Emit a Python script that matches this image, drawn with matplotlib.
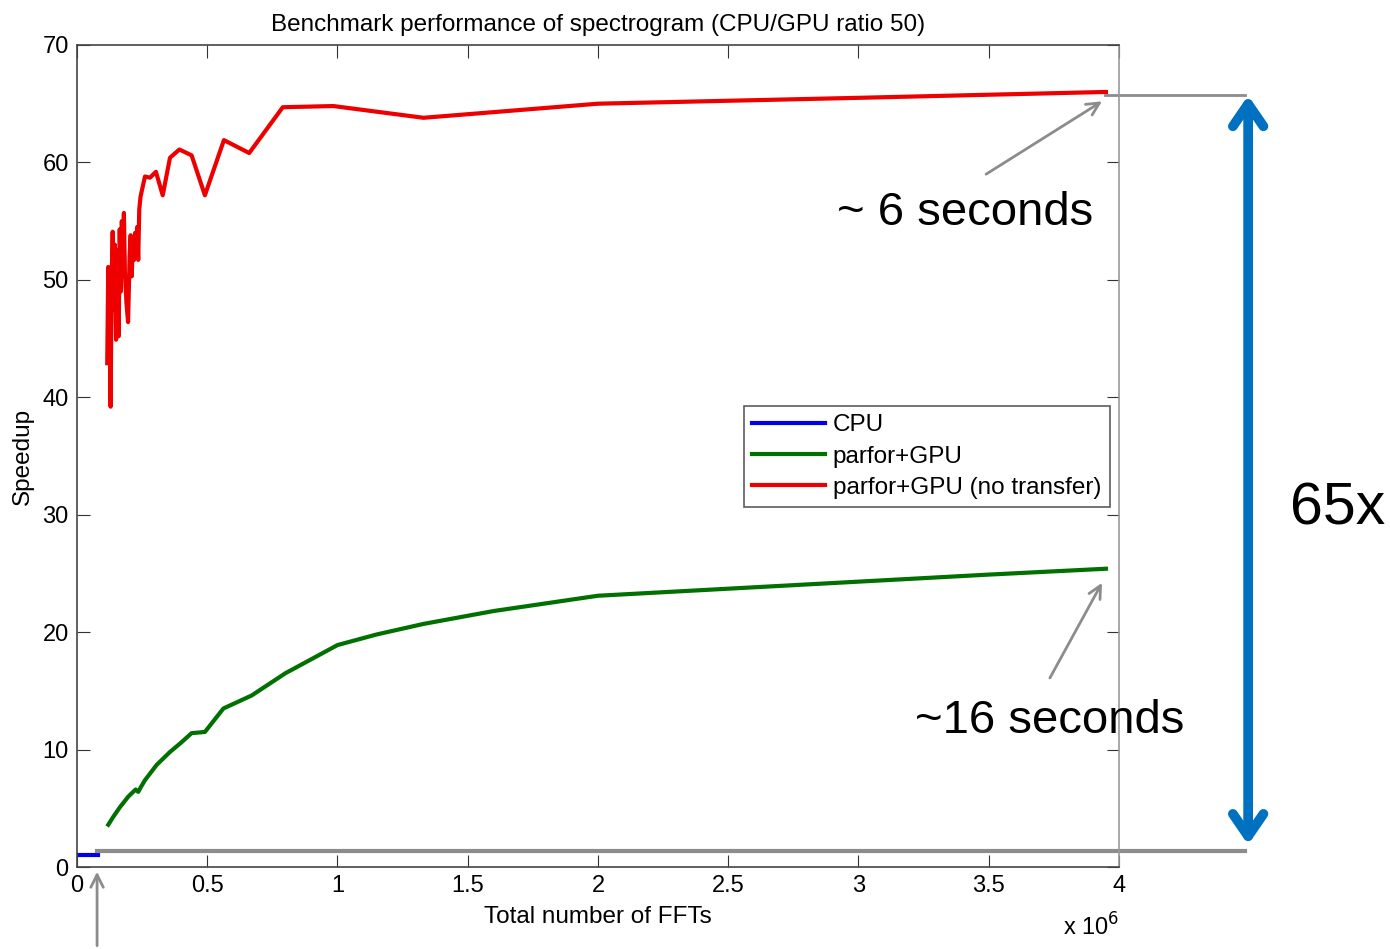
import numpy as np
import matplotlib.pyplot as plt

plt.rcParams['font.family'] = ['Liberation Sans', 'DejaVu Sans']

# values (x in millions of FFTs)
cpu_x = [0.0, 0.02, 0.05, 0.08]
cpu_y = [1.0, 1.0, 1.0, 1.0]

gpu_x = [0.120, 0.140, 0.165, 0.197, 0.225, 0.235, 0.245, 0.261, 0.306, 0.357, 0.400,
         0.440, 0.491, 0.562, 0.670, 0.800, 0.900, 1.000, 1.150, 1.330, 1.600, 2.000,
         2.500, 3.000, 3.500, 3.950]
gpu_y = [3.6, 4.3, 5.1, 6.0, 6.6, 6.4, 6.8, 7.4, 8.7, 9.8, 10.6,
         11.4, 11.5, 13.5, 14.6, 16.5, 17.7, 18.9, 19.8, 20.7, 21.8, 23.1,
         23.7, 24.3, 24.9, 25.4]

nt_x = [0.116, 0.120, 0.124, 0.129, 0.133, 0.137, 0.141, 0.145, 0.150, 0.155, 0.160,
        0.164, 0.168, 0.172, 0.176, 0.180, 0.184, 0.190, 0.196, 0.202, 0.206, 0.210,
        0.215, 0.219, 0.223, 0.227, 0.231, 0.235, 0.239, 0.244, 0.261, 0.280, 0.303,
        0.329, 0.357, 0.393, 0.440, 0.491, 0.564, 0.661, 0.790, 0.984, 1.330, 2.000,
        3.000, 3.950]
nt_y = [42.9, 51.1, 48.0, 39.2, 50.0, 54.1, 47.5, 53.0, 44.9, 52.5, 45.2,
        54.3, 49.0, 55.0, 52.0, 55.7, 50.5, 48.0, 46.4, 52.0, 53.8, 50.3,
        53.5, 51.7, 54.0, 52.0, 54.5, 51.7, 56.0, 57.1, 58.8, 58.7, 59.2,
        57.2, 60.4, 61.1, 60.6, 57.2, 61.9, 60.8, 64.7, 64.8, 63.8, 65.0,
        65.5, 66.0]

labels = ['CPU', 'parfor+GPU', 'parfor+GPU (no transfer)']

fig = plt.figure(figsize=(13.9, 9.49), dpi=100)
ax = fig.add_axes([0.0554, 0.0864, 0.7496, 0.8662])

ax.plot(cpu_x, cpu_y, color='#0000ee', lw=3, label=labels[0])
ax.plot(gpu_x, gpu_y, color='#007000', lw=3, label=labels[1])
ax.plot(nt_x, nt_y, color='#ee0000', lw=3, label=labels[2])

ax.set_xlim(0, 4)
ax.set_ylim(0, 70)
ax.set_xticks(np.arange(0, 4.01, 0.5))
ax.set_xticklabels(['0', '0.5', '1', '1.5', '2', '2.5', '3', '3.5', '4'])
ax.set_yticks(np.arange(0, 71, 10))
ax.tick_params(direction='in', length=9, top=True, right=True, labelsize=17, pad=6,
               color='#333333')
for s in ax.spines.values():
    s.set_color('#444444')
    s.set_linewidth(1.2)
ax.spines['right'].set_color('#999999')

ax.set_title('Benchmark performance of spectrogram (CPU/GPU ratio 50)', fontsize=17.5, pad=10)
ax.set_xlabel('Total number of FFTs', fontsize=17.5, labelpad=6)
ax.set_ylabel('Speedup', fontsize=17.5, labelpad=6)
ax.text(1.0, -0.073, r'x 10$^{6}$', transform=ax.transAxes, fontsize=17, ha='right', va='center')

leg = ax.legend(loc='upper right', bbox_to_anchor=(0.991, 0.561), fontsize=17.5,
                frameon=True, fancybox=False, handlelength=3.0, handletextpad=0.3,
                borderpad=0.35, labelspacing=0.38, borderaxespad=0)
leg.get_frame().set_edgecolor('#333333')
leg.get_frame().set_linewidth(1.2)

# annotations outside the data
grey = '#8c8c8c'
ax.plot([3.946, 4.484], [65.76, 65.76], color=grey, lw=2, clip_on=False)
ax.plot([0.077, 4.484], [1.36, 1.36], color=grey, lw=3, clip_on=False)
ax.annotate('', xy=(4.496, 65.7), xytext=(4.496, 1.9), annotation_clip=False,
            arrowprops=dict(arrowstyle='<->,head_length=1.6,head_width=1.1',
                            color='#0070c0', lw=7, capstyle='round', joinstyle='round',
                            shrinkA=0, shrinkB=0))
ax.text(4.656, 30.5, '65x', fontsize=42.5, va='center', ha='left')

ax.annotate('', xy=(3.935, 65.2), xytext=(3.49, 59.0), annotation_clip=False,
            arrowprops=dict(arrowstyle='->,head_length=0.9,head_width=0.45', color=grey, lw=2,
                            shrinkA=0, shrinkB=0))
ax.text(3.90, 55.7, '~ 6 seconds', fontsize=34, ha='right', va='center')

ax.annotate('', xy=(3.935, 24.2), xytext=(3.735, 16.1), annotation_clip=False,
            arrowprops=dict(arrowstyle='->,head_length=0.9,head_width=0.45', color=grey, lw=2,
                            shrinkA=0, shrinkB=0))
ax.text(4.253, 12.4, '~16 seconds', fontsize=34, ha='right', va='center')

ax.annotate('', xy=(0.077, -0.4), xytext=(0.077, -6.7), annotation_clip=False,
            arrowprops=dict(arrowstyle='->,head_length=0.9,head_width=0.45', color=grey, lw=2,
                            shrinkA=0, shrinkB=0))

fig.savefig('out.png', dpi=100)
